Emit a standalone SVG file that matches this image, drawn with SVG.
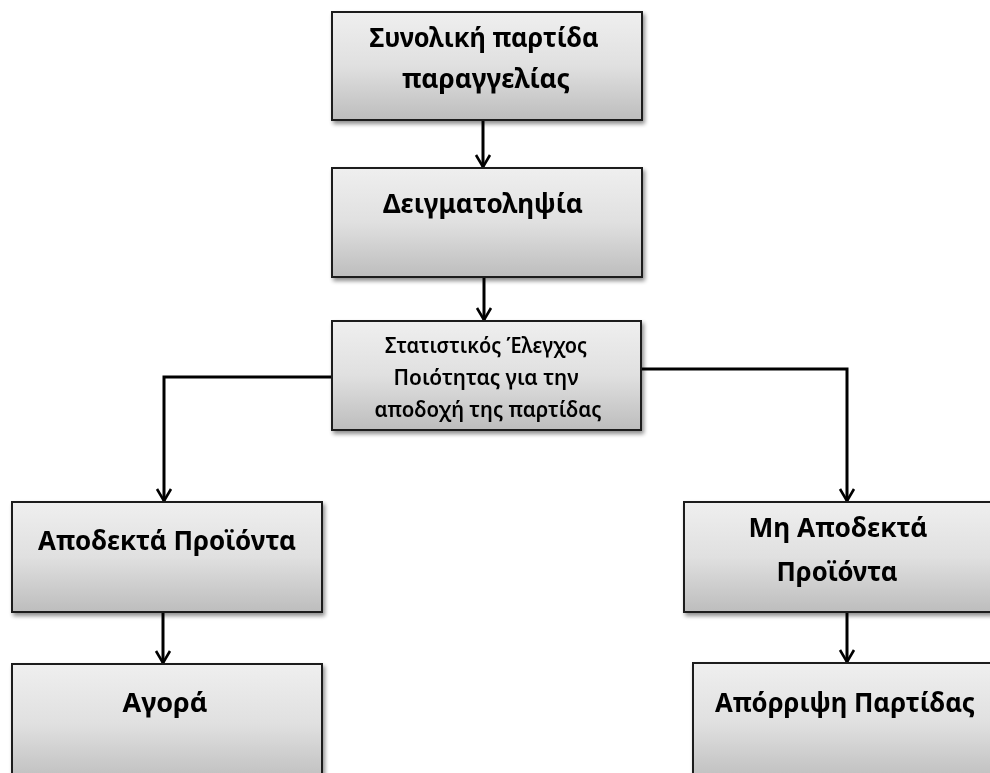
<svg xmlns="http://www.w3.org/2000/svg" width="990" height="773" viewBox="0 0 990 773">
<style>
.box{fill:url(#g);stroke:#1a1a1a;stroke-width:2}
.t{font-family:"Noto Sans","Open Sans","DejaVu Sans",sans-serif;font-weight:bold;font-size:27px;fill:#000;text-anchor:middle}
.s{font-family:"Noto Sans","Open Sans","DejaVu Sans",sans-serif;font-weight:600;font-size:22px;fill:#000;text-anchor:middle}
.c{fill:none;stroke:#000;stroke-width:3}
</style>
<defs>
<linearGradient id="g" x1="0" y1="0" x2="0" y2="1">
<stop offset="0" stop-color="#efefef"/>
<stop offset="0.5" stop-color="#e0e0e0"/>
<stop offset="1" stop-color="#bdbdbd"/>
</linearGradient>
<filter id="sh" x="-5%" y="-5%" width="115%" height="120%">
<feGaussianBlur in="SourceAlpha" stdDeviation="2"/>
<feOffset dx="2" dy="3" result="b"/>
<feComponentTransfer><feFuncA type="linear" slope="0.45"/></feComponentTransfer>
<feMerge><feMergeNode/><feMergeNode in="SourceGraphic"/></feMerge>
</filter>
<marker id="ah" markerWidth="20" markerHeight="20" viewBox="0 0 20 20" refX="17" refY="10" orient="auto" markerUnits="userSpaceOnUse">
<path d="M5,3 L17,10 L5,17" fill="none" stroke="#000" stroke-width="2.6"/>
</marker>
</defs>
<rect width="990" height="773" fill="#fff"/>
<g id="connectors">
<path class="c" d="M483,120 V167" marker-end="url(#ah)"/>
<path class="c" d="M484,277 V320" marker-end="url(#ah)"/>
<path class="c" d="M332,377 H164 V501" marker-end="url(#ah)"/>
<path class="c" d="M642,369 H847 V501" marker-end="url(#ah)"/>
<path class="c" d="M163,612 V663" marker-end="url(#ah)"/>
<path class="c" d="M847,612 V662" marker-end="url(#ah)"/>
</g>
<g id="n1" filter="url(#sh)">
<rect class="box" x="332" y="12" width="310" height="108"/>
<text class="t" x="484" y="47" textLength="229" lengthAdjust="spacingAndGlyphs">Συνολική παρτίδα</text>
<text class="t" x="486" y="88" textLength="168" lengthAdjust="spacingAndGlyphs">παραγγελίας</text>
</g>
<g id="n2" filter="url(#sh)">
<rect class="box" x="332" y="168" width="310" height="109"/>
<text class="t" x="483" y="213" textLength="200" lengthAdjust="spacingAndGlyphs">Δειγματοληψία</text>
</g>
<g id="n3" filter="url(#sh)">
<rect class="box" x="332" y="321" width="309" height="109"/>
<text class="s" x="486" y="353" textLength="202" lengthAdjust="spacingAndGlyphs">Στατιστικός Έλεγχος</text>
<text class="s" x="486" y="385" textLength="185" lengthAdjust="spacingAndGlyphs">Ποιότητας για την</text>
<text class="s" x="488" y="417" textLength="227" lengthAdjust="spacingAndGlyphs">αποδοχή της παρτίδας</text>
</g>
<g id="n4" filter="url(#sh)">
<rect class="box" x="12" y="502" width="310" height="110"/>
<text class="t" x="167" y="550" textLength="258" lengthAdjust="spacingAndGlyphs">Αποδεκτά Προϊόντα</text>
</g>
<g id="n5" filter="url(#sh)">
<rect class="box" x="12" y="664" width="310" height="120"/>
<text class="t" x="165" y="712" textLength="85" lengthAdjust="spacingAndGlyphs">Αγορά</text>
</g>
<g id="n6" filter="url(#sh)">
<rect class="box" x="684" y="502" width="312" height="110"/>
<text class="t" x="838" y="537" textLength="179" lengthAdjust="spacingAndGlyphs">Μη Αποδεκτά</text>
<text class="t" x="837" y="581" textLength="121" lengthAdjust="spacingAndGlyphs">Προϊόντα</text>
</g>
<g id="n7" filter="url(#sh)">
<rect class="box" x="693" y="663" width="312" height="120"/>
<text class="t" x="845" y="712" textLength="260" lengthAdjust="spacingAndGlyphs">Απόρριψη Παρτίδας</text>
</g>
</svg>
